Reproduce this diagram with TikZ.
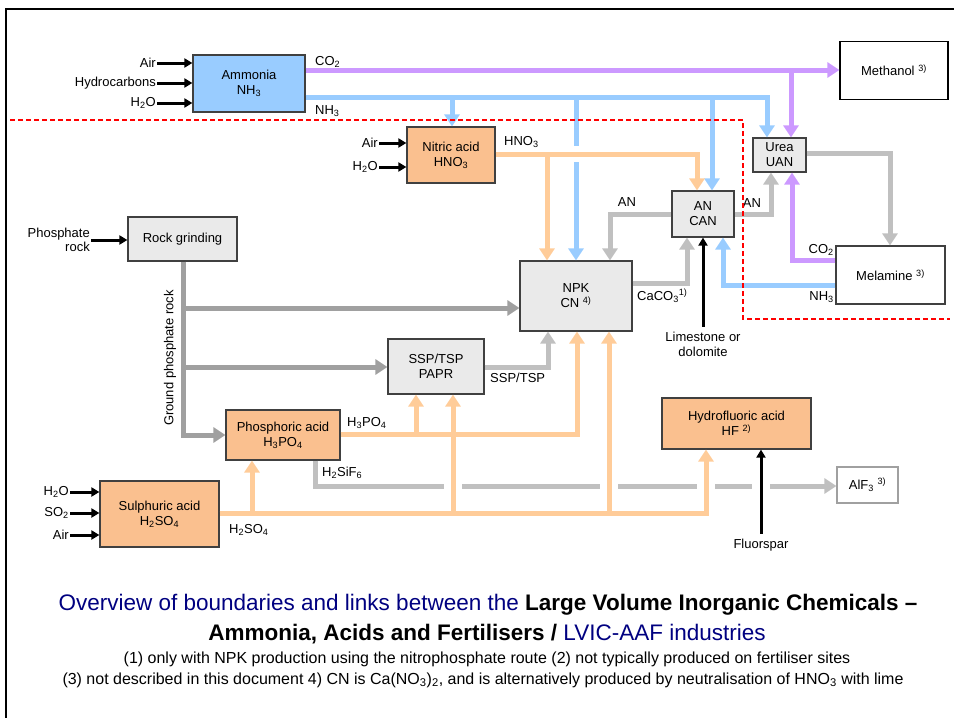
\documentclass[tikz,border=0pt]{standalone}
\usepackage{fontspec}
\setmainfont{Liberation Sans}
\usetikzlibrary{arrows.meta}
\definecolor{nhblue}{RGB}{153,204,255}
\definecolor{coviolet}{RGB}{204,153,255}
\definecolor{acidline}{RGB}{255,204,153}
\definecolor{acidfill}{RGB}{250,192,143}
\definecolor{prodfill}{RGB}{234,234,234}
\definecolor{flowgray}{RGB}{192,192,192}
\definecolor{rockgray}{RGB}{160,160,160}
\definecolor{edge}{RGB}{64,64,64}
\definecolor{navy}{RGB}{0,0,128}
\definecolor{bound}{RGB}{255,0,0}

\begin{document}
\begin{tikzpicture}[x=1pt,y=-1pt]
\tikzstyle{every node}=[font=\fontsize{13}{15}\selectfont, inner sep=1pt]
\tikzstyle{plant}=[draw=edge, line width=1.2pt, align=center, inner sep=0pt]
\tikzstyle{acidplant}=[plant, fill=acidfill]
\tikzstyle{prodplant}=[plant, fill=prodfill]
\tikzstyle{flow}=[line width=5pt, -{Triangle[width=15pt,length=12pt]}]
\tikzstyle{feed}=[line width=3pt, -{Triangle[width=9pt,length=8pt]}]
\useasboundingbox (0,0) rectangle (954,718);
\draw[line width=2pt] (6,718) -- (6,9) -- (954,9);

\node[plant, fill=nhblue, minimum width=112pt, minimum height=57pt] (ammonia) at (249,83.5) {Ammonia\\NH\textsubscript{3}};
\node[plant, draw=black, fill=white, minimum width=108pt, minimum height=58pt] (methanol) at (894,70.5) {Methanol \textsuperscript{3)}};
\node[acidplant, minimum width=88pt, minimum height=56pt] (nitric) at (451,155) {Nitric acid\\HNO\textsubscript{3}};
\node[prodplant, minimum width=62pt, minimum height=46pt] (ancan) at (703,214) {AN\\CAN};
\node[prodplant, minimum width=53pt, minimum height=34pt] (urea) at (779.5,155) {Urea\\UAN};
\node[prodplant, minimum width=112pt, minimum height=70pt] (npk) at (576,296) {NPK\\CN \textsuperscript{4)}};
\node[plant, fill=white, minimum width=109pt, minimum height=58pt] (melamine) at (890.5,275) {Melamine \textsuperscript{3)}};
\node[prodplant, minimum width=109pt, minimum height=44pt] (rock) at (182.5,239) {Rock grinding};
\node[prodplant, minimum width=96pt, minimum height=55pt] (ssp) at (436,366.5) {SSP/TSP\\PAPR};
\node[acidplant, minimum width=114pt, minimum height=50pt] (phos) at (283,435) {Phosphoric acid\\H\textsubscript{3}PO\textsubscript{4}};
\node[acidplant, minimum width=119pt, minimum height=66pt] (sulph) at (159.5,514) {Sulphuric acid\\H\textsubscript{2}SO\textsubscript{4}};
\node[acidplant, minimum width=149pt, minimum height=51pt] (hf) at (736.5,423.5) {Hydrofluoric acid\\HF \textsuperscript{2)}};
\node[plant, draw=rockgray, fill=white, minimum width=61pt, minimum height=36pt] (alf) at (867.5,485) {AlF\textsubscript{3} \textsuperscript{3)}};

\node[anchor=east] (airA) at (157,63) {Air};
\node[anchor=east] (hcA) at (157,83) {Hydrocarbons};
\node[anchor=east] (watA) at (157,103) {H\textsubscript{2}O};
\node[anchor=east] (airN) at (379,143) {Air};
\node[anchor=east] (watN) at (379,167) {H\textsubscript{2}O};
\node[anchor=east] (watS) at (70,492) {H\textsubscript{2}O};
\node[anchor=east] (so2S) at (70,513) {SO\textsubscript{2}};
\node[anchor=east] (airS) at (70,535) {Air};
\node[anchor=east, align=right, font=\fontsize{13}{14}\selectfont] (prock) at (91,240) {Phosphate\\rock};
\node[align=center] (lime) at (703,344) {Limestone or\\dolomite};
\node (fluor) at (761,545) {Fluorspar};
\foreach \n/\t in {airA/ammonia, hcA/ammonia, watA/ammonia, airN/nitric, watN/nitric, watS/sulph, so2S/sulph, airS/sulph, prock/rock}
  \draw[feed] (\n.east) -- (\n.east -| \t.west);

\coordinate (nhend) at (767,97);
\coordinate (nhnit) at (452,97);
\coordinate (nhnpk) at (576,97);
\coordinate (nhan) at (712,97);
\draw[flow, nhblue] (ammonia.east |- nhend) -- (nhend) -- (nhend |- urea.north);
\draw[flow, nhblue] (nhnit) -- (nhnit |- nitric.north);
\draw[flow, nhblue] (nhnpk) -- (nhnpk |- npk.north);
\draw[flow, nhblue] (nhan) -- (nhan |- ancan.north);
\coordinate (coend) at (791,70);
\draw[flow, coviolet] (ammonia.east |- coend) -- (coend -| methanol.west);
\draw[flow, coviolet] (coend) -- (coend |- urea.north);
\coordinate (melco) at (792,260);
\coordinate (melnh) at (723,285);
\draw[flow, coviolet] (melamine.west |- melco) -- (melco) -- (melco |- urea.south);
\draw[flow, nhblue] (melamine.west |- melnh) -- (melnh) -- (melnh |- ancan.south);

\coordinate (anl) at (610,214);
\coordinate (anr) at (771,214);
\coordinate (ureo) at (890,153);
\coordinate (caco) at (687,283);
\coordinate (sspo) at (548,367);
\coordinate (sif) at (315,486);
\draw[flow, flowgray] (ancan.west |- anl) -- (anl) -- (anl |- npk.north);
\draw[flow, flowgray] (ancan.east |- anr) -- (anr) -- (anr |- urea.south);
\draw[flow, flowgray] (urea.east |- ureo) -- (ureo) -- (ureo |- melamine.north);
\draw[flow, flowgray] (npk.east |- caco) -- (caco) -- (caco |- ancan.south);
\draw[flow, flowgray] (ssp.east |- sspo) -- (sspo) -- (sspo |- npk.south);
\draw[flow, flowgray] (sif |- phos.south) -- (sif) -- (sif -| alf.west);

\coordinate (gpr) at (183,435);
\coordinate (gpn) at (183,308);
\coordinate (gps) at (183,367);
\draw[flow, rockgray] (rock.south -| gpr) -- (gpr) -- (gpr -| phos.west);
\draw[flow, rockgray] (gpn) -- (gpn -| npk.west);
\draw[flow, rockgray] (gps) -- (gps -| ssp.west);

\foreach \p in {(453,486),(609,486),(706,486),(761,486)}
  \fill[white] \p ++(-9,-4) rectangle ++(18,8);
\fill[white] (576,154) ++(-5,-8) rectangle ++(10,16);

\coordinate (hno) at (697,154);
\coordinate (hnonpk) at (547,154);
\coordinate (hpo) at (577,434);
\coordinate (hpossp) at (416,434);
\coordinate (hso) at (706,513);
\coordinate (hsophos) at (252,513);
\coordinate (hsossp) at (453,513);
\coordinate (hsonpk) at (609,513);
\draw[flow, acidline] (nitric.east |- hno) -- (hno) -- (hno |- ancan.north);
\draw[flow, acidline] (hnonpk) -- (hnonpk |- npk.north);
\draw[flow, acidline] (hsophos) -- (hsophos |- phos.south);
\draw[flow, acidline] (hsossp) -- (hsossp |- ssp.south);
\draw[flow, acidline] (hsonpk) -- (hsonpk |- npk.south);
\draw[flow, acidline] (sulph.east |- hso) -- (hso) -- (hso |- hf.south);
\draw[flow, acidline] (phos.east |- hpo) -- (hpo) -- (hpo |- npk.south);
\draw[flow, acidline] (hpossp) -- (hpossp |- ssp.south);

\draw[feed] ([yshift=4pt]lime.north) -- (lime.north |- ancan.south);
\draw[feed] ([yshift=4pt]fluor.north) -- (fluor.north |- hf.south);

\node[anchor=west] (lco2a) at (314,62) {CO\textsubscript{2}};
\node[anchor=west] (lnh3a) at (314,111) {NH\textsubscript{3}};
\node[anchor=west] (lhno3) at (503,142) {HNO\textsubscript{3}};
\node (lanl) at (627,202) {AN};
\node (lanr) at (752,203) {AN};
\node[anchor=east] (lco2m) at (835,250) {CO\textsubscript{2}};
\node[anchor=east] (lnh3m) at (835,297) {NH\textsubscript{3}};
\node[anchor=west] (lcaco) at (636,296) {CaCO\textsubscript{3}\textsuperscript{1)}};
\node[anchor=west] (lssp) at (489,378) {SSP/TSP};
\node[anchor=west] (lhpo) at (346,423) {H\textsubscript{3}PO\textsubscript{4}};
\node[anchor=west] (lsif) at (321,473) {H\textsubscript{2}SiF\textsubscript{6}};
\node[anchor=west] (lhso) at (228,530) {H\textsubscript{2}SO\textsubscript{4}};
\node[rotate=90] (lgpr) at (170,358) {Ground phosphate rock};

\draw[bound, line width=1.4pt, dash pattern=on 5pt off 3pt] (10,120) -- (743,120) -- (743,319) -- (950,319);

\node[font=\fontsize{22.5}{25}\selectfont] (cap1) at (488,605) {\textcolor{navy}{Overview of boundaries and links between the} \textbf{Large Volume Inorganic Chemicals –}};
\node[font=\fontsize{22.5}{25}\selectfont] (cap2) at (487,634) {\textbf{Ammonia, Acids and Fertilisers /} \textcolor{navy}{LVIC-AAF industries}};
\node[font=\fontsize{16}{18}\selectfont] (cap3) at (487,659) {(1) only with NPK production using the nitrophosphate route (2) not typically produced on fertiliser sites};
\node[font=\fontsize{16}{18}\selectfont] (cap4) at (483,680) {(3) not described in this document 4) CN is Ca(NO\textsubscript{3})\textsubscript{2}, and is alternatively produced by neutralisation of HNO\textsubscript{3} with lime};
\end{tikzpicture}
\end{document}
